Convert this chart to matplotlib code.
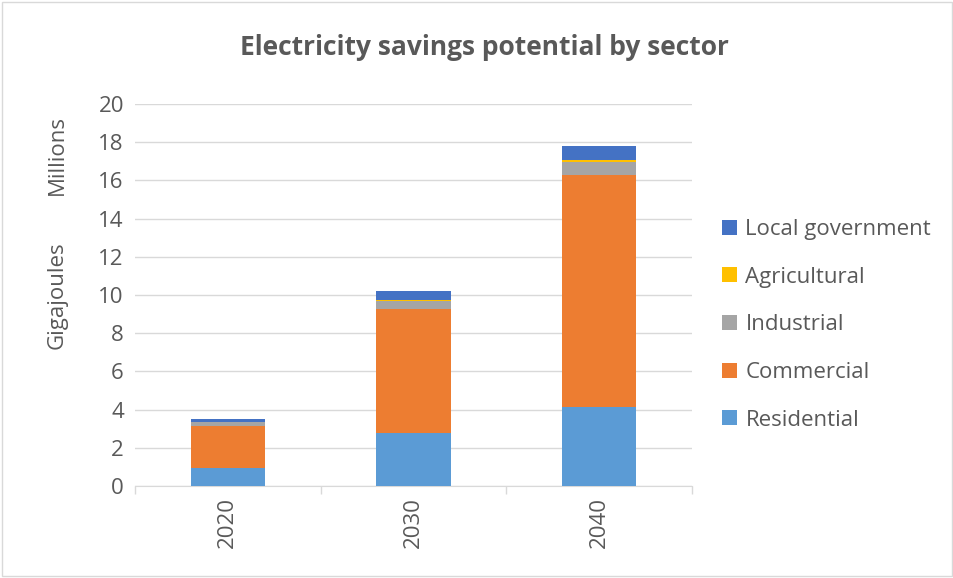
import matplotlib.pyplot as plt
import numpy as np
from matplotlib.patches import Rectangle

plt.rcParams['font.family'] = ['Open Sans', 'DejaVu Sans']

years = ['2020', '2030', '2040']
residential = [0.95, 2.76, 4.12]
commercial = [2.21, 6.52, 12.15]
industrial = [0.19, 0.42, 0.71]
agricultural = [0.02, 0.05, 0.10]
local_gov = [0.12, 0.46, 0.72]

series = [('Residential', residential, '#5b9bd5'),
          ('Commercial', commercial, '#ed7d31'),
          ('Industrial', industrial, '#a5a5a5'),
          ('Agricultural', agricultural, '#ffc000'),
          ('Local government', local_gov, '#4472c4')]

fig = plt.figure(figsize=(9.54, 5.78), dpi=100)
ax = fig.add_axes([0.1415, 0.159, 0.584, 0.661])
fig.patches.append(Rectangle((0.002, 0.003), 0.996, 0.994, transform=fig.transFigure,
                             fill=False, edgecolor='#d9d9d9', lw=1))

x = np.arange(len(years))
bottom = np.zeros(len(years))
for name, vals, col in series:
    ax.bar(x, vals, 0.4, bottom=bottom, color=col, label=name, zorder=3)
    bottom += np.array(vals)

ax.set_xlim(-0.5, 2.5)
ax.set_ylim(0, 20)
ax.set_yticks(range(0, 21, 2))
ax.set_xticks(x)
ax.set_xticks([-0.5, 0.5, 1.5, 2.5], minor=True)
ax.set_xticklabels(years, rotation=90)
ax.grid(axis='y', color='#d9d9d9', lw=1, zorder=0)
for s in ['top', 'right', 'left']:
    ax.spines[s].set_visible(False)
ax.spines['bottom'].set_color('#d9d9d9')
ax.tick_params(axis='both', which='major', length=0, labelsize=16, labelcolor='#595959', pad=8)
ax.tick_params(axis='x', which='minor', length=6, width=1, color='#d9d9d9')

fig.text(0.508, 0.918, 'Electricity savings potential by sector', ha='center', va='center',
         fontsize=19, fontweight='bold', color='#595959')
fig.text(0.06, 0.49, 'Gigajoules', rotation=90, ha='center', va='center',
         fontsize=16, color='#595959')
fig.text(0.06, 0.732, 'Millions', rotation=90, ha='center', va='center',
         fontsize=16, color='#595959')

h, l = ax.get_legend_handles_labels()
leg = fig.legend(h[::-1], l[::-1], loc='center left', bbox_to_anchor=(0.736, 0.438),
                 frameon=False, fontsize=16, labelspacing=1.2, handlelength=0.65,
                 handleheight=0.65, handletextpad=0.4, labelcolor='#595959')

fig.savefig('out.png', dpi=100)
